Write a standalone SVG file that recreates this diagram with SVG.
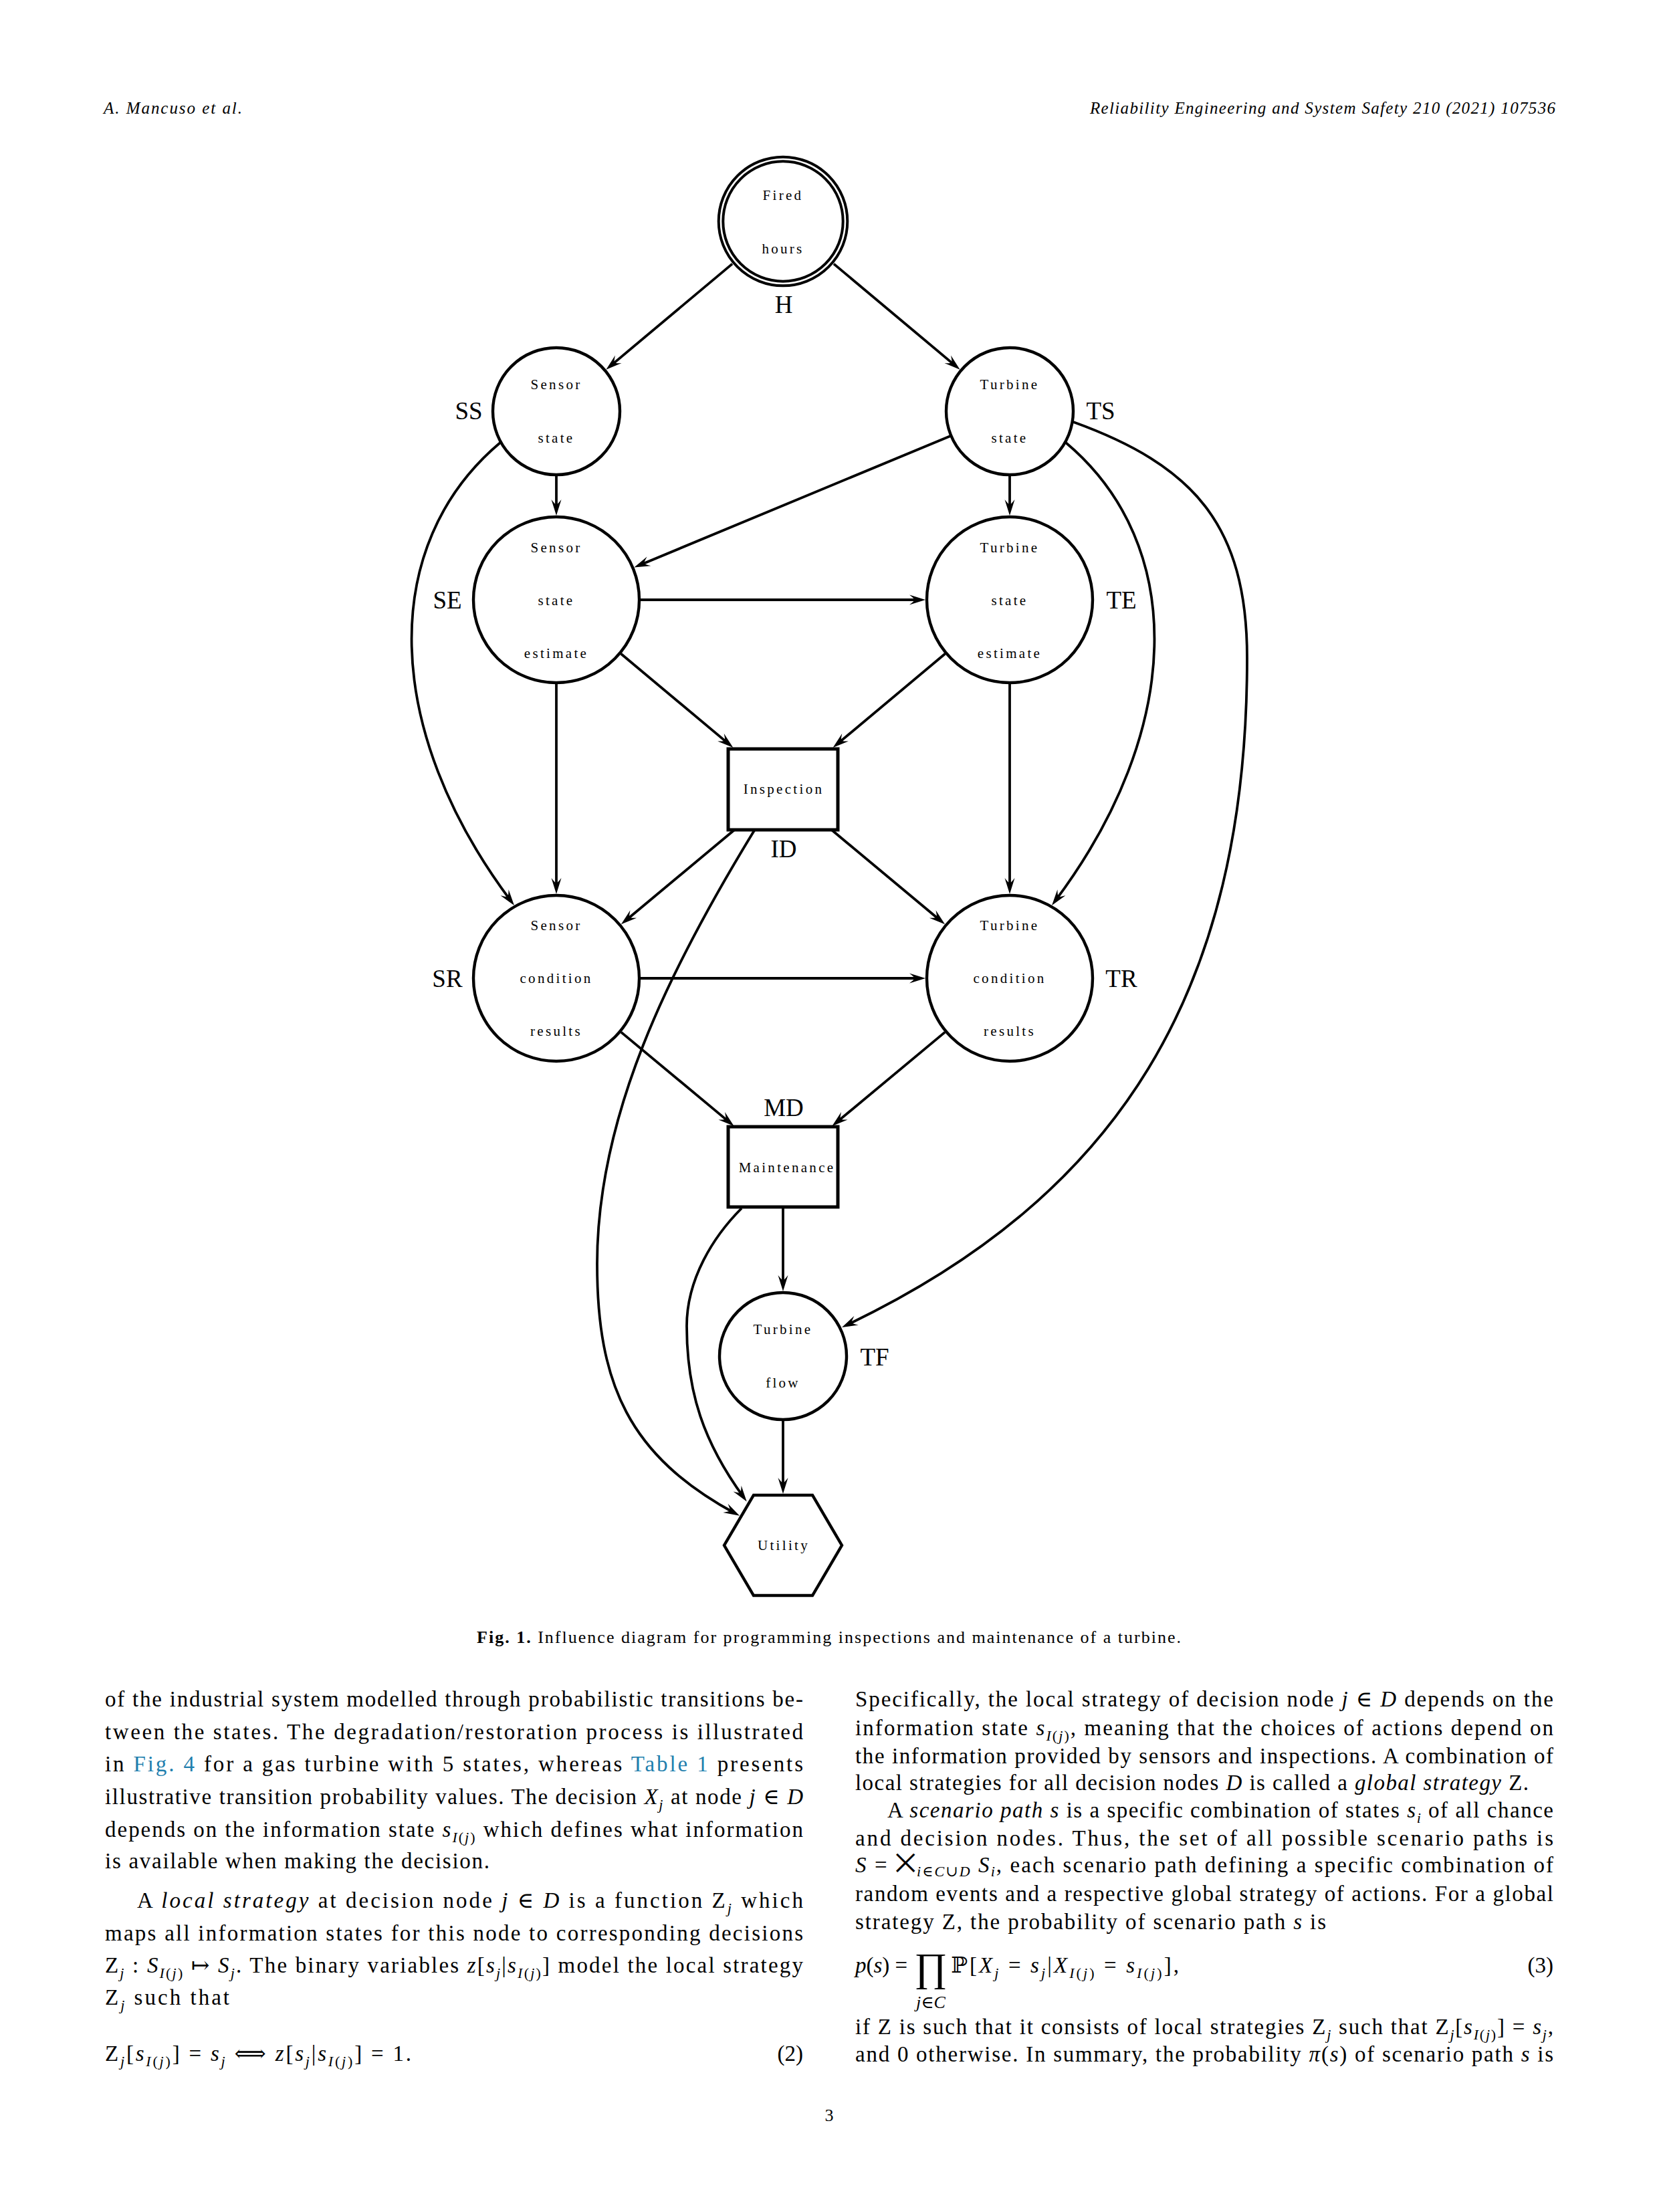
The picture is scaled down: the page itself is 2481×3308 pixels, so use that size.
<svg xmlns="http://www.w3.org/2000/svg" width="2481" height="3308" viewBox="0 0 2481 3308">
<style>
.node{fill:#fff;stroke:#000;stroke-width:4.4}
.box{fill:#fff;stroke:#000;stroke-width:5}
.edge{fill:none;stroke:#000;stroke-width:3.8;marker-end:url(#arr)}
.nt{font-family:"Liberation Serif",serif;font-size:21px;letter-spacing:3.3px;text-anchor:middle;fill:#000}
.lbl{font-family:"Liberation Serif",serif;font-size:37px;text-anchor:middle;fill:#000}
.b{font-family:"Liberation Serif","DejaVu Serif",serif;font-size:33px;fill:#000}
.i{font-style:italic}
.s{font-size:22px}
.lk{fill:#1f7fae}
.hd{font-family:"Liberation Serif",serif;font-size:25px;font-style:italic;fill:#000}
.cap{font-family:"Liberation Serif",serif;font-size:26px;fill:#000}
.big{font-size:60px}
.nx{font-family:"DejaVu Sans",sans-serif;font-size:38px}
.lim{font-size:26px;font-style:italic}
</style>
<defs>
<marker id="arr" viewBox="-26 -10 28 20" markerWidth="28" markerHeight="20" refX="-8" refY="0" orient="auto" markerUnits="userSpaceOnUse">
<path d="M0,0 L-24,-7.5 Q-17,-2 -16,0 Q-17,2 -24,7.5 Z" fill="#000"/>
</marker>
</defs>
<rect x="0" y="0" width="2481" height="3308" fill="#fff"/>

<text class="hd" x="155" y="170" textLength="207" lengthAdjust="spacing">A. Mancuso et al.</text>
<text class="hd" x="2326" y="170" text-anchor="end" textLength="696" lengthAdjust="spacing">Reliability Engineering and System Safety 210 (2021) 107536</text>

<g id="n-H">
<circle cx="1171" cy="331" r="96.3" fill="#fff" stroke="#000" stroke-width="4"/>
<circle cx="1171" cy="331" r="89.7" fill="none" stroke="#000" stroke-width="4"/>
<text class="nt" x="1171" y="299">Fired</text>
<text class="nt" x="1171" y="379">hours</text>
<text class="lbl" x="1172" y="468">H</text>
</g>
<g id="n-SS">
<circle class="node" cx="832" cy="615" r="95"/>
<text class="nt" x="832" y="582">Sensor</text>
<text class="nt" x="832" y="662">state</text>
<text class="lbl" x="701" y="627">SS</text>
</g>
<g id="n-TS">
<circle class="node" cx="1510" cy="615" r="95"/>
<text class="nt" x="1510" y="582">Turbine</text>
<text class="nt" x="1510" y="662">state</text>
<text class="lbl" x="1646" y="627">TS</text>
</g>
<g id="n-SE">
<circle class="node" cx="832" cy="897" r="124"/>
<text class="nt" x="832" y="826">Sensor</text>
<text class="nt" x="832" y="905">state</text>
<text class="nt" x="832" y="984">estimate</text>
<text class="lbl" x="669" y="910">SE</text>
</g>
<g id="n-TE">
<circle class="node" cx="1510" cy="897" r="124"/>
<text class="nt" x="1510" y="826">Turbine</text>
<text class="nt" x="1510" y="905">state</text>
<text class="nt" x="1510" y="984">estimate</text>
<text class="lbl" x="1677" y="910">TE</text>
</g>
<g id="n-ID">
<rect class="box" x="1089" y="1120" width="164" height="121"/>
<text class="nt" x="1172" y="1187">Inspection</text>
<text class="lbl" x="1172" y="1282">ID</text>
</g>
<g id="n-SR">
<circle class="node" cx="832" cy="1463" r="124"/>
<text class="nt" x="832" y="1391">Sensor</text>
<text class="nt" x="832" y="1470">condition</text>
<text class="nt" x="832" y="1549">results</text>
<text class="lbl" x="669" y="1476">SR</text>
</g>
<g id="n-TR">
<circle class="node" cx="1510" cy="1463" r="124"/>
<text class="nt" x="1510" y="1391">Turbine</text>
<text class="nt" x="1510" y="1470">condition</text>
<text class="nt" x="1510" y="1549">results</text>
<text class="lbl" x="1677" y="1476">TR</text>
</g>
<g id="n-MD">
<rect class="box" x="1089" y="1685" width="164" height="120"/>
<text class="nt" x="1177" y="1753">Maintenance</text>
<text class="lbl" x="1172" y="1669">MD</text>
</g>
<g id="n-TF">
<circle class="node" cx="1171" cy="2028" r="95"/>
<text class="nt" x="1171" y="1995">Turbine</text>
<text class="nt" x="1171" y="2075">flow</text>
<text class="lbl" x="1308" y="2042">TF</text>
</g>
<g id="n-U">
<polygon class="node" points="1127,2236 1215,2236 1259,2311 1215,2386 1127,2386 1083,2311"/>
<text class="nt" x="1172" y="2318">Utility</text>
</g>

<g id="connectors">
<path class="edge" d="M1095.1,394.6 L912.5,547.6"/>
<path class="edge" d="M1246.9,394.6 L1429.5,547.6"/>
<path class="edge" d="M832,711 L832,763"/>
<path class="edge" d="M1510,711 L1510,763"/>
<path class="edge" d="M1421.4,651.9 L955.7,845.5"/>
<path class="edge" d="M958,897 L1376,897"/>
<path class="edge" d="M928.7,977.8 L1090.2,1112.9"/>
<path class="edge" d="M1413.3,977.8 L1251.8,1112.9"/>
<path class="edge" d="M832,1023 L832,1329"/>
<path class="edge" d="M1510,1023 L1510,1329"/>
<path class="edge" d="M1098.4,1241 L935,1377.2"/>
<path class="edge" d="M1243.6,1241 L1407,1377.2"/>
<path class="edge" d="M958,1463 L1376,1463"/>
<path class="edge" d="M928.9,1543.6 L1091.5,1678.9"/>
<path class="edge" d="M1413.1,1543.6 L1250.5,1678.9"/>
<path class="edge" d="M1171,1805 L1171,1923"/>
<path class="edge" d="M1171,2123 L1171,2226"/>
<path class="edge" d="M748,662 C565.6,815.6 572.2,1091.6 764.2,1347.6"/>
<path class="edge" d="M1594,662 C1776.4,815.6 1769.8,1091.6 1577.8,1347.6"/>
<path class="edge" d="M1605,631 C1783.6,695.6 1865,784 1865,984 C1865,1484 1671.2,1788.1 1266.2,1981.6"/>
<path class="edge" d="M1128,1242 C998,1454.5 893,1670 893,1890 C893,2070 941,2177 1099,2263"/>
<path class="edge" d="M1109,1807 C1066.6,1849.4 1027,1913 1027,1983 C1027,2083 1053,2158 1112,2239"/>
</g>

<text class="cap" x="713" y="2457" textLength="1053" lengthAdjust="spacing"><tspan font-weight="bold">Fig. 1.</tspan>  Influence diagram for programming inspections and maintenance of a turbine.</text>

<g id="left-column">
<text class="b" x="157" y="2552" textLength="1044" lengthAdjust="spacing">of the industrial system modelled through probabilistic transitions be-</text>
<text class="b" x="157" y="2601" textLength="1044" lengthAdjust="spacing">tween the states. The degradation/restoration process is illustrated</text>
<text class="b" x="157" y="2649" textLength="1044" lengthAdjust="spacing">in <tspan class="lk">Fig. 4</tspan> for a gas turbine with 5 states, whereas <tspan class="lk">Table 1</tspan> presents</text>
<text class="b" x="157" y="2698" textLength="1044" lengthAdjust="spacing">illustrative transition probability values. The decision <tspan class="i">X</tspan><tspan class="i s" dy="8">j</tspan><tspan dy="-8"> at node </tspan><tspan class="i">j</tspan> ∈ <tspan class="i">D</tspan></text>
<text class="b" x="157" y="2747" textLength="1044" lengthAdjust="spacing">depends on the information state <tspan class="i">s</tspan><tspan class="s" dy="8"><tspan class="i">I</tspan>(<tspan class="i">j</tspan>)</tspan><tspan dy="-8"> which defines what information</tspan></text>
<text class="b" x="157" y="2794" textLength="575" lengthAdjust="spacing">is available when making the decision.</text>
<text class="b" x="205" y="2853" textLength="996" lengthAdjust="spacing">A <tspan class="i">local strategy</tspan> at decision node <tspan class="i">j</tspan> ∈ <tspan class="i">D</tspan> is a function Z<tspan class="i s" dy="8">j</tspan><tspan dy="-8"> which</tspan></text>
<text class="b" x="157" y="2902" textLength="1044" lengthAdjust="spacing">maps all information states for this node to corresponding decisions</text>
<text class="b" x="157" y="2950" textLength="1044" lengthAdjust="spacing">Z<tspan class="i s" dy="8">j</tspan><tspan dy="-8"> : </tspan><tspan class="i">S</tspan><tspan class="s" dy="8"><tspan class="i">I</tspan>(<tspan class="i">j</tspan>)</tspan><tspan dy="-8"> ↦ </tspan><tspan class="i">S</tspan><tspan class="i s" dy="8">j</tspan><tspan dy="-8">. The binary variables </tspan><tspan class="i">z</tspan>[<tspan class="i">s</tspan><tspan class="i s" dy="8">j</tspan><tspan dy="-8">|</tspan><tspan class="i">s</tspan><tspan class="s" dy="8"><tspan class="i">I</tspan>(<tspan class="i">j</tspan>)</tspan><tspan dy="-8">] model the local strategy</tspan></text>
<text class="b" x="157" y="2998" textLength="186" lengthAdjust="spacing">Z<tspan class="i s" dy="8">j</tspan><tspan dy="-8"> such that</tspan></text>
<text class="b" x="157" y="3082" textLength="458" lengthAdjust="spacing">Z<tspan class="i s" dy="8">j</tspan><tspan dy="-8">[</tspan><tspan class="i">s</tspan><tspan class="s" dy="8"><tspan class="i">I</tspan>(<tspan class="i">j</tspan>)</tspan><tspan dy="-8">] = </tspan><tspan class="i">s</tspan><tspan class="i s" dy="8">j</tspan><tspan dy="-8"> ⟺ </tspan><tspan class="i">z</tspan>[<tspan class="i">s</tspan><tspan class="i s" dy="8">j</tspan><tspan dy="-8">|</tspan><tspan class="i">s</tspan><tspan class="s" dy="8"><tspan class="i">I</tspan>(<tspan class="i">j</tspan>)</tspan><tspan dy="-8">] = 1.</tspan></text>
<text class="b" x="1201" y="3082" text-anchor="end">(2)</text>
</g>

<g id="right-column">
<text class="b" x="1279" y="2552" textLength="1044" lengthAdjust="spacing">Specifically, the local strategy of decision node <tspan class="i">j</tspan> ∈ <tspan class="i">D</tspan> depends on the</text>
<text class="b" x="1279" y="2595" textLength="1044" lengthAdjust="spacing">information state <tspan class="i">s</tspan><tspan class="s" dy="8"><tspan class="i">I</tspan>(<tspan class="i">j</tspan>)</tspan><tspan dy="-8">, meaning that the choices of actions depend on</tspan></text>
<text class="b" x="1279" y="2637" textLength="1044" lengthAdjust="spacing">the information provided by sensors and inspections. A combination of</text>
<text class="b" x="1279" y="2677" textLength="1007" lengthAdjust="spacing">local strategies for all decision nodes <tspan class="i">D</tspan> is called a <tspan class="i">global strategy</tspan> Z.</text>
<text class="b" x="1327" y="2718" textLength="996" lengthAdjust="spacing">A <tspan class="i">scenario path</tspan> <tspan class="i">s</tspan> is a specific combination of states <tspan class="i">s</tspan><tspan class="i s" dy="8">i</tspan><tspan dy="-8"> of all chance</tspan></text>
<text class="b" x="1279" y="2760" textLength="1044" lengthAdjust="spacing">and decision nodes. Thus, the set of all possible scenario paths is</text>
<text class="b" x="1279" y="2800" textLength="1044" lengthAdjust="spacing"><tspan class="i">S</tspan> = <tspan class="nx">⨉</tspan><tspan class="i s" dy="6">i∈C∪D</tspan><tspan dy="-6"> </tspan><tspan class="i">S</tspan><tspan class="i s" dy="6">i</tspan><tspan dy="-6">, each scenario path defining a specific combination of</tspan></text>
<text class="b" x="1279" y="2843" textLength="1044" lengthAdjust="spacing">random events and a respective global strategy of actions. For a global</text>
<text class="b" x="1279" y="2885" textLength="704" lengthAdjust="spacing">strategy Z, the probability of scenario path <tspan class="i">s</tspan> is</text>
<text class="b" x="1279" y="2950"><tspan class="i">p</tspan>(<tspan class="i">s</tspan>) =</text>
<text class="b big" x="1392" y="2962" text-anchor="middle">∏</text>
<text class="b lim" x="1392" y="3003" text-anchor="middle">j∈C</text>
<text class="b" x="1422" y="2950" textLength="341" lengthAdjust="spacing">ℙ[<tspan class="i">X</tspan><tspan class="i s" dy="8">j</tspan><tspan dy="-8"> = </tspan><tspan class="i">s</tspan><tspan class="i s" dy="8">j</tspan><tspan dy="-8">|</tspan><tspan class="i">X</tspan><tspan class="s" dy="8"><tspan class="i">I</tspan>(<tspan class="i">j</tspan>)</tspan><tspan dy="-8"> = </tspan><tspan class="i">s</tspan><tspan class="s" dy="8"><tspan class="i">I</tspan>(<tspan class="i">j</tspan>)</tspan><tspan dy="-8">],</tspan></text>
<text class="b" x="2323" y="2950" text-anchor="end">(3)</text>
<text class="b" x="1279" y="3042" textLength="1044" lengthAdjust="spacing">if Z is such that it consists of local strategies Z<tspan class="i s" dy="8">j</tspan><tspan dy="-8"> such that Z</tspan><tspan class="i s" dy="8">j</tspan><tspan dy="-8">[</tspan><tspan class="i">s</tspan><tspan class="s" dy="8"><tspan class="i">I</tspan>(<tspan class="i">j</tspan>)</tspan><tspan dy="-8">] = </tspan><tspan class="i">s</tspan><tspan class="i s" dy="8">j</tspan><tspan dy="-8">,</tspan></text>
<text class="b" x="1279" y="3083" textLength="1044" lengthAdjust="spacing">and 0 otherwise. In summary, the probability <tspan class="i">π</tspan>(<tspan class="i">s</tspan>) of scenario path <tspan class="i">s</tspan> is</text>
</g>

<text class="cap" x="1240" y="3172" text-anchor="middle">3</text>
</svg>
